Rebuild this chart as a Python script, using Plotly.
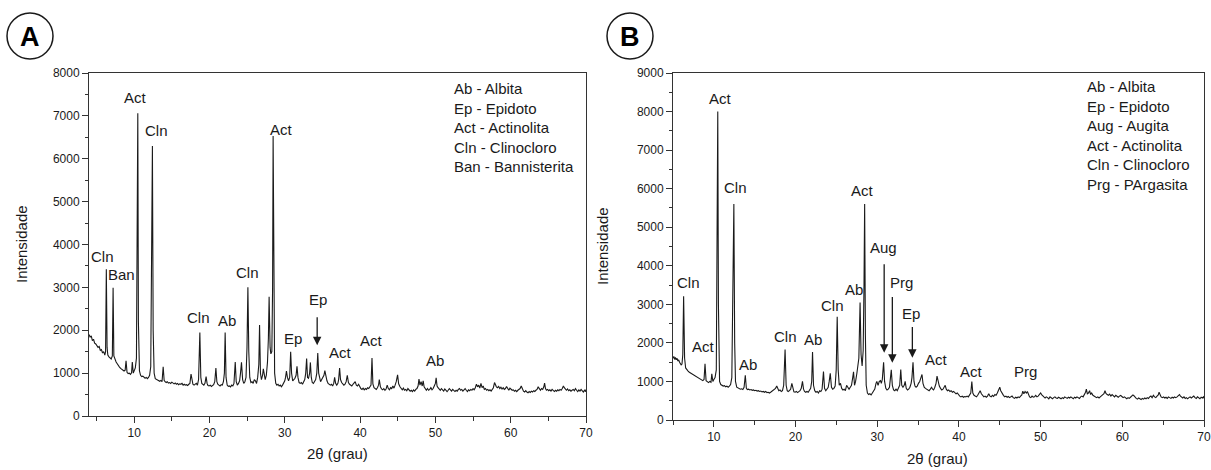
import plotly.graph_objects as go

# ---------------- XRD pattern A (2theta, counts) ----------------
pattern_a = [
    (4.0, 1900), (4.15, 1840), (4.3, 1870), (4.45, 1760), (4.6, 1790), (4.75, 1700), (4.9, 1680),
    (5.05, 1640), (5.2, 1600), (5.35, 1620), (5.5, 1530), (5.65, 1550), (5.8, 1470), (5.95, 1500),
    (6.1, 1420), (6.2, 1500), (6.3, 3420), (6.4, 1600), (6.5, 1420), (6.65, 1380), (6.8, 1340),
    (6.95, 1330), (7.1, 1400), (7.2, 2990), (7.3, 1400), (7.45, 1300), (7.6, 1260), (7.75, 1220),
    (7.9, 1170), (8.05, 1140), (8.2, 1110), (8.35, 1090), (8.5, 1080), (8.65, 1050), (8.8, 1070),
    (8.92, 1290), (9.05, 1020), (9.2, 990), (9.35, 1000), (9.5, 970), (9.65, 1010), (9.75, 1260),
    (9.88, 1000), (10.0, 1080), (10.15, 1120), (10.3, 1350), (10.42, 4400), (10.48, 7060),
    (10.56, 2200), (10.7, 1050), (10.85, 950), (11.0, 920), (11.15, 930), (11.3, 900), (11.45, 880),
    (11.6, 900), (11.75, 870), (11.9, 900), (12.05, 950), (12.2, 1150), (12.35, 5700), (12.42, 6300),
    (12.52, 2000), (12.65, 1000), (12.8, 870), (12.95, 850), (13.1, 840), (13.25, 830), (13.4, 810),
    (13.55, 830), (13.7, 800), (13.85, 1150), (13.98, 830), (14.1, 800), (14.25, 780), (14.4, 800),
    (14.55, 770), (14.7, 780), (14.85, 760), (15.0, 790), (15.15, 760), (15.3, 750), (15.45, 770),
    (15.6, 740), (15.75, 760), (15.9, 730), (16.05, 750), (16.2, 740), (16.35, 760), (16.5, 720),
    (16.65, 740), (16.8, 720), (16.95, 730), (17.1, 710), (17.25, 740), (17.4, 760), (17.55, 980),
    (17.68, 800), (17.8, 740), (17.95, 720), (18.1, 740), (18.25, 760), (18.4, 720), (18.55, 850),
    (18.72, 1950), (18.85, 900), (18.98, 760), (19.1, 740), (19.25, 720), (19.4, 760), (19.55, 920),
    (19.68, 760), (19.8, 710), (19.95, 700), (20.1, 720), (20.25, 690), (20.4, 710), (20.55, 730),
    (20.7, 800), (20.85, 1120), (20.98, 800), (21.1, 740), (21.25, 720), (21.4, 700), (21.55, 730),
    (21.7, 720), (21.85, 800), (21.98, 1000), (22.08, 1950), (22.2, 900), (22.35, 720), (22.5, 690),
    (22.65, 700), (22.8, 680), (22.95, 720), (23.1, 700), (23.25, 760), (23.42, 1260), (23.55, 800),
    (23.7, 720), (23.85, 760), (24.0, 820), (24.12, 1000), (24.25, 1250), (24.4, 850), (24.55, 760),
    (24.7, 800), (24.85, 900), (24.98, 1600), (25.1, 3000), (25.22, 1500), (25.35, 900), (25.5, 780),
    (25.65, 800), (25.8, 760), (25.95, 850), (26.1, 820), (26.25, 760), (26.4, 900), (26.55, 1200),
    (26.65, 2120), (26.77, 1000), (26.9, 850), (27.05, 950), (27.15, 1100), (27.28, 900), (27.4, 850),
    (27.55, 950), (27.7, 1250), (27.82, 1800), (27.92, 2780), (28.05, 1600), (28.15, 1450),
    (28.28, 1500), (28.38, 3000), (28.45, 6530), (28.55, 2500), (28.65, 1000), (28.8, 760),
    (28.95, 720), (29.1, 740), (29.25, 700), (29.4, 720), (29.55, 680), (29.7, 720), (29.85, 760),
    (30.0, 820), (30.1, 900), (30.22, 1050), (30.35, 900), (30.5, 820), (30.65, 900), (30.78, 1500),
    (30.9, 1000), (31.05, 820), (31.2, 850), (31.35, 880), (31.5, 950), (31.62, 1160), (31.75, 900),
    (31.9, 780), (32.05, 760), (32.2, 780), (32.35, 740), (32.5, 800), (32.65, 850), (32.78, 1000),
    (32.9, 1340), (33.02, 900), (33.15, 880), (33.3, 1000), (33.4, 1250), (33.52, 900), (33.65, 780),
    (33.8, 760), (33.95, 800), (34.1, 850), (34.25, 1000), (34.38, 1470), (34.5, 1000), (34.62, 850),
    (34.75, 800), (34.9, 850), (35.05, 900), (35.2, 950), (35.32, 1060), (35.45, 900), (35.6, 820),
    (35.75, 760), (35.9, 740), (36.05, 720), (36.2, 740), (36.35, 700), (36.5, 760), (36.62, 900),
    (36.75, 760), (36.9, 720), (37.05, 760), (37.15, 850), (37.28, 1120), (37.4, 850), (37.55, 780),
    (37.7, 740), (37.85, 720), (38.0, 740), (38.15, 800), (38.3, 950), (38.45, 780), (38.6, 740),
    (38.75, 720), (38.9, 700), (39.05, 740), (39.2, 760), (39.35, 800), (39.5, 720), (39.65, 700),
    (39.8, 740), (39.95, 680), (40.1, 640), (40.25, 620), (40.4, 650), (40.55, 610), (40.7, 640),
    (40.85, 620), (41.0, 660), (41.15, 640), (41.3, 680), (41.45, 720), (41.58, 1350), (41.7, 750),
    (41.85, 660), (42.0, 640), (42.15, 620), (42.3, 660), (42.45, 720), (42.55, 850), (42.7, 680),
    (42.85, 630), (43.0, 610), (43.15, 640), (43.3, 600), (43.45, 630), (43.6, 720), (43.75, 640),
    (43.9, 610), (44.05, 660), (44.2, 640), (44.35, 700), (44.5, 650), (44.65, 720), (44.8, 800),
    (44.98, 960), (45.12, 750), (45.3, 680), (45.45, 640), (45.6, 610), (45.75, 650), (45.9, 600),
    (46.05, 620), (46.2, 590), (46.35, 640), (46.5, 620), (46.65, 580), (46.8, 600), (46.95, 570),
    (47.1, 610), (47.25, 580), (47.4, 620), (47.55, 640), (47.7, 700), (47.82, 860), (47.95, 720),
    (48.1, 800), (48.25, 700), (48.38, 820), (48.5, 680), (48.65, 620), (48.8, 600), (48.95, 640),
    (49.1, 600), (49.25, 620), (49.4, 660), (49.55, 610), (49.7, 640), (49.85, 700), (50.0, 760),
    (50.1, 890), (50.22, 700), (50.35, 660), (50.5, 620), (50.65, 600), (50.8, 640), (50.95, 610),
    (51.1, 580), (51.25, 630), (51.4, 600), (51.55, 570), (51.7, 600), (51.85, 640), (52.0, 610),
    (52.15, 580), (52.3, 620), (52.45, 600), (52.6, 570), (52.75, 600), (52.9, 580), (53.05, 620),
    (53.2, 640), (53.35, 600), (53.5, 620), (53.65, 580), (53.8, 600), (53.95, 640), (54.1, 600),
    (54.25, 570), (54.4, 610), (54.55, 590), (54.7, 620), (54.85, 600), (55.0, 640), (55.15, 610),
    (55.3, 660), (55.45, 740), (55.6, 680), (55.75, 720), (55.9, 650), (56.05, 760), (56.2, 660),
    (56.35, 700), (56.5, 620), (56.65, 640), (56.8, 600), (56.95, 620), (57.1, 590), (57.25, 610),
    (57.4, 580), (57.55, 620), (57.7, 660), (57.85, 780), (57.98, 700), (58.1, 680), (58.25, 660),
    (58.4, 690), (58.55, 640), (58.7, 670), (58.85, 630), (59.0, 660), (59.15, 620), (59.3, 640),
    (59.45, 690), (59.6, 630), (59.75, 600), (59.9, 650), (60.05, 630), (60.2, 600), (60.35, 610),
    (60.5, 580), (60.65, 600), (60.8, 570), (60.95, 600), (61.1, 620), (61.25, 640), (61.4, 700),
    (61.55, 620), (61.7, 580), (61.85, 560), (62.0, 590), (62.15, 560), (62.3, 540), (62.45, 570),
    (62.6, 550), (62.75, 580), (62.9, 560), (63.05, 590), (63.2, 570), (63.35, 600), (63.5, 620),
    (63.65, 680), (63.8, 630), (63.95, 600), (64.1, 640), (64.25, 620), (64.4, 680), (64.5, 770),
    (64.62, 640), (64.75, 600), (64.9, 620), (65.05, 590), (65.2, 610), (65.35, 580), (65.5, 620),
    (65.65, 600), (65.8, 570), (65.95, 600), (66.1, 580), (66.25, 610), (66.4, 590), (66.55, 620),
    (66.7, 600), (66.85, 640), (67.0, 700), (67.12, 660), (67.25, 620), (67.4, 600), (67.55, 630),
    (67.7, 590), (67.85, 610), (68.0, 580), (68.15, 600), (68.3, 620), (68.45, 590), (68.6, 640),
    (68.75, 600), (68.9, 570), (69.05, 610), (69.2, 580), (69.35, 620), (69.5, 590), (69.65, 560),
    (69.8, 600), (69.95, 570), (70.0, 620),
]

# ---------------- XRD pattern B (2theta, counts) ----------------
pattern_b = [
    (5.0, 1600), (5.1, 1650), (5.2, 1570), (5.3, 1620), (5.4, 1560), (5.5, 1600), (5.6, 1530),
    (5.7, 1560), (5.8, 1500), (5.9, 1470), (6.0, 1430), (6.1, 1450), (6.2, 1700), (6.3, 3210),
    (6.42, 1600), (6.55, 1350), (6.7, 1300), (6.85, 1270), (7.0, 1240), (7.15, 1220), (7.3, 1190),
    (7.45, 1170), (7.6, 1150), (7.75, 1120), (7.9, 1100), (8.05, 1090), (8.2, 1060), (8.35, 1050),
    (8.5, 1030), (8.65, 1020), (8.8, 1050), (8.92, 1460), (9.05, 1020), (9.2, 980), (9.35, 970),
    (9.5, 1000), (9.65, 980), (9.75, 1200), (9.88, 1000), (10.0, 1050), (10.15, 1100), (10.3, 1300),
    (10.42, 6200), (10.48, 8000), (10.56, 3000), (10.7, 1000), (10.85, 920), (11.0, 900),
    (11.15, 880), (11.3, 890), (11.45, 860), (11.6, 880), (11.75, 850), (11.9, 880), (12.05, 920),
    (12.2, 1100), (12.35, 3600), (12.45, 5600), (12.55, 2000), (12.65, 1000), (12.8, 850),
    (12.95, 830), (13.1, 820), (13.25, 800), (13.4, 810), (13.55, 790), (13.7, 850), (13.85, 1160),
    (13.98, 820), (14.1, 790), (14.25, 800), (14.4, 780), (14.55, 790), (14.7, 770), (14.85, 780),
    (15.0, 760), (15.15, 770), (15.3, 750), (15.45, 760), (15.6, 740), (15.75, 750), (15.9, 730),
    (16.05, 740), (16.2, 720), (16.35, 740), (16.5, 710), (16.65, 720), (16.8, 700), (16.95, 720),
    (17.1, 740), (17.25, 760), (17.4, 800), (17.55, 820), (17.7, 880), (17.82, 800), (17.95, 760),
    (18.1, 780), (18.25, 740), (18.4, 760), (18.55, 900), (18.72, 1830), (18.85, 900), (18.98, 760),
    (19.1, 740), (19.25, 760), (19.4, 800), (19.55, 950), (19.68, 780), (19.8, 730), (19.95, 720),
    (20.1, 740), (20.25, 710), (20.4, 730), (20.55, 760), (20.7, 820), (20.85, 1000), (20.98, 800),
    (21.1, 740), (21.25, 720), (21.4, 740), (21.55, 720), (21.7, 760), (21.85, 820), (21.98, 1000),
    (22.08, 1760), (22.2, 900), (22.35, 760), (22.5, 720), (22.65, 740), (22.8, 700), (22.95, 760),
    (23.1, 740), (23.25, 800), (23.42, 1260), (23.55, 820), (23.7, 760), (23.85, 800), (24.0, 850),
    (24.12, 1000), (24.25, 1210), (24.4, 850), (24.55, 800), (24.7, 820), (24.85, 880), (24.98, 1300),
    (25.1, 2680), (25.22, 1300), (25.35, 900), (25.5, 950), (25.65, 820), (25.8, 780), (25.95, 800),
    (26.1, 760), (26.25, 900), (26.4, 850), (26.55, 800), (26.7, 850), (26.85, 900), (27.0, 1100),
    (27.1, 1250), (27.22, 900), (27.35, 1000), (27.5, 1200), (27.65, 1500), (27.75, 1600),
    (27.9, 3050), (28.02, 1700), (28.15, 1400), (28.28, 1800), (28.38, 3500), (28.46, 5600),
    (28.55, 2200), (28.65, 900), (28.8, 700), (28.95, 660), (29.1, 680), (29.25, 650), (29.4, 700),
    (29.55, 760), (29.7, 800), (29.85, 950), (29.95, 1000), (30.1, 900), (30.25, 1000), (30.4, 1020),
    (30.5, 950), (30.62, 1050), (30.78, 1500), (30.9, 1000), (31.05, 820), (31.2, 780), (31.35, 800),
    (31.5, 850), (31.62, 1100), (31.72, 1300), (31.85, 900), (32.0, 780), (32.15, 760), (32.3, 800),
    (32.45, 760), (32.6, 820), (32.75, 900), (32.88, 1310), (33.0, 900), (33.15, 850), (33.3, 900),
    (33.42, 1000), (33.55, 820), (33.7, 780), (33.85, 800), (34.0, 850), (34.15, 950), (34.25, 1100),
    (34.38, 1500), (34.5, 1000), (34.62, 880), (34.75, 850), (34.9, 880), (35.05, 950), (35.2, 1000),
    (35.35, 1100), (35.48, 1180), (35.6, 950), (35.75, 850), (35.9, 820), (36.05, 800), (36.2, 780),
    (36.35, 760), (36.5, 800), (36.65, 850), (36.78, 800), (36.9, 780), (37.05, 850), (37.2, 950),
    (37.32, 1140), (37.45, 1000), (37.6, 880), (37.75, 820), (37.9, 780), (38.05, 800), (38.2, 850),
    (38.32, 900), (38.45, 800), (38.6, 760), (38.75, 780), (38.9, 740), (39.05, 760), (39.2, 720),
    (39.35, 740), (39.5, 700), (39.65, 680), (39.8, 700), (39.95, 650), (40.1, 620), (40.25, 600),
    (40.4, 620), (40.55, 590), (40.7, 610), (40.85, 600), (41.0, 620), (41.15, 600), (41.3, 640),
    (41.45, 700), (41.58, 1000), (41.7, 700), (41.85, 640), (42.0, 610), (42.15, 600), (42.3, 640),
    (42.45, 700), (42.6, 760), (42.75, 680), (42.9, 630), (43.05, 600), (43.2, 620), (43.35, 590),
    (43.5, 620), (43.65, 680), (43.8, 620), (43.95, 600), (44.1, 640), (44.25, 610), (44.4, 660),
    (44.55, 640), (44.7, 700), (44.85, 760), (45.0, 850), (45.12, 760), (45.3, 680), (45.45, 640),
    (45.6, 600), (45.75, 620), (45.9, 590), (46.05, 610), (46.2, 580), (46.35, 600), (46.5, 620),
    (46.65, 580), (46.8, 560), (46.95, 590), (47.1, 570), (47.25, 600), (47.4, 580), (47.55, 620),
    (47.7, 650), (47.82, 750), (47.95, 680), (48.1, 740), (48.25, 700), (48.38, 740), (48.5, 650),
    (48.65, 600), (48.8, 580), (48.95, 620), (49.1, 590), (49.25, 600), (49.4, 640), (49.55, 600),
    (49.7, 620), (49.85, 660), (50.0, 700), (50.12, 660), (50.25, 620), (50.4, 600), (50.55, 570),
    (50.7, 600), (50.85, 580), (51.0, 550), (51.15, 600), (51.3, 570), (51.45, 550), (51.6, 580),
    (51.75, 600), (51.9, 570), (52.05, 560), (52.2, 590), (52.35, 570), (52.5, 550), (52.65, 580),
    (52.8, 560), (52.95, 600), (53.1, 580), (53.25, 560), (53.4, 590), (53.55, 570), (53.7, 600),
    (53.85, 580), (54.0, 550), (54.15, 590), (54.3, 570), (54.45, 600), (54.6, 580), (54.75, 560),
    (54.9, 600), (55.05, 620), (55.2, 600), (55.35, 650), (55.5, 720), (55.6, 800), (55.72, 680),
    (55.85, 700), (56.0, 760), (56.12, 660), (56.25, 700), (56.4, 640), (56.55, 620), (56.7, 600),
    (56.85, 580), (57.0, 600), (57.15, 570), (57.3, 600), (57.45, 620), (57.6, 640), (57.75, 680),
    (57.88, 760), (58.0, 690), (58.15, 660), (58.3, 640), (58.45, 670), (58.6, 620), (58.75, 660),
    (58.9, 630), (59.05, 600), (59.2, 640), (59.35, 610), (59.5, 590), (59.65, 620), (59.8, 640),
    (59.95, 610), (60.1, 580), (60.25, 600), (60.4, 570), (60.55, 550), (60.7, 580), (60.85, 560),
    (61.0, 590), (61.15, 610), (61.3, 650), (61.42, 630), (61.55, 590), (61.7, 560), (61.85, 540),
    (62.0, 570), (62.15, 550), (62.3, 530), (62.45, 560), (62.6, 540), (62.75, 570), (62.9, 550),
    (63.05, 580), (63.2, 560), (63.35, 600), (63.5, 620), (63.65, 580), (63.8, 640), (63.95, 600),
    (64.1, 580), (64.25, 620), (64.4, 650), (64.5, 720), (64.62, 630), (64.75, 600), (64.9, 580),
    (65.05, 600), (65.2, 570), (65.35, 590), (65.5, 560), (65.65, 600), (65.8, 580), (65.95, 560),
    (66.1, 590), (66.25, 570), (66.4, 600), (66.55, 580), (66.7, 600), (66.85, 620), (67.0, 660),
    (67.12, 620), (67.25, 590), (67.4, 570), (67.55, 600), (67.7, 560), (67.85, 580), (68.0, 550),
    (68.15, 580), (68.3, 600), (68.45, 570), (68.6, 590), (68.75, 620), (68.9, 580), (69.05, 560),
    (69.2, 600), (69.35, 570), (69.5, 550), (69.65, 590), (69.8, 570), (69.95, 600), (70.0, 560),
]

two_theta_a = [p[0] for p in pattern_a]
intensity_a = [p[1] for p in pattern_a]
two_theta_b = [p[0] for p in pattern_b]
intensity_b = [p[1] for p in pattern_b]

# Phase labels over the peaks: (text, 2theta, height)
labels_a = [
    ("Cln", 5.85, 3730), ("Ban", 8.25, 3300), ("Act", 10.2, 7420), ("Cln", 12.9, 6670),
    ("Act", 29.5, 6690), ("Cln", 18.6, 2290), ("Ab", 22.3, 2230), ("Cln", 25.1, 3340),
    ("Ep", 31.1, 1800), ("Ep", 34.35, 2720), ("Act", 37.4, 1490), ("Act", 41.5, 1770),
    ("Ab", 50.0, 1290),
]
labels_b = [
    ("Cln", 6.95, 3575), ("Act", 8.7, 1915), ("Act", 10.8, 8330), ("Cln", 12.65, 6030),
    ("Act", 28.2, 5960), ("Aug", 30.8, 4466), ("Prg", 33.0, 3560), ("Ab", 27.1, 3386),
    ("Cln", 24.55, 2970), ("Cln", 18.8, 2160), ("Ab", 22.1, 2090), ("Ab", 14.2, 1443),
    ("Ep", 34.1, 2756), ("Act", 37.3, 1572), ("Act", 41.5, 1270), ("Prg", 48.2, 1270),
]
# Arrows pointing at minor reflections: (2theta, tail height, head height)
arrows_a = [(34.3, 2340, 1650)]
arrows_b = [(30.85, 4078, 1746), (31.85, 3230, 1487), (34.3, 2453, 1616)]

legend_a = ["Ab - Albita", "Ep - Epidoto", "Act - Actinolita", "Cln - Clinocloro",
            "Ban - Bannisterita"]
legend_b = ["Ab - Albita", "Ep - Epidoto", "Aug - Augita", "Act - Actinolita",
            "Cln - Clinocloro", "Prg - PArgasita"]

W, H = 1211, 470
FONT = "Liberation Sans, Arial, sans-serif"
INK = "#1a1a1a"


def px(x):
    return x / W


def py(y):
    return 1 - y / H


fig = go.Figure()
fig.add_trace(go.Scatter(x=two_theta_a, y=intensity_a, mode="lines", xaxis="x", yaxis="y",
                         line=dict(color=INK, width=1.1), showlegend=False, hoverinfo="skip"))
fig.add_trace(go.Scatter(x=two_theta_b, y=intensity_b, mode="lines", xaxis="x2", yaxis="y2",
                         line=dict(color=INK, width=1.1), showlegend=False, hoverinfo="skip"))

axis_common = dict(
    showline=True, linecolor="#333333", linewidth=1, mirror=True,
    ticks="outside", ticklen=6, tickwidth=1, tickcolor="#333333",
    showgrid=False, zeroline=False, automargin=False,
    tickfont=dict(family=FONT, size=12, color=INK),
)

fig.update_layout(
    width=W, height=H,
    margin=dict(l=0, r=0, t=0, b=0, autoexpand=False),
    paper_bgcolor="white", plot_bgcolor="white",
    xaxis=dict(domain=[px(89), px(586)], range=[4, 70], tickvals=[10, 20, 30, 40, 50, 60, 70],
               minor=dict(tickvals=[5, 15, 25, 35, 45, 55, 65], ticks="outside", ticklen=4,
                          tickcolor="#333333"),
               anchor="y", **axis_common),
    yaxis=dict(domain=[py(416), py(73)], range=[0, 8000], dtick=1000,
               minor=dict(dtick=500, ticks="outside", ticklen=3, tickcolor="#333333"),
               anchor="x", **axis_common),
    xaxis2=dict(domain=[px(673), px(1204)], range=[5, 70], tickvals=[10, 20, 30, 40, 50, 60, 70],
                minor=dict(tickvals=[5, 15, 25, 35, 45, 55, 65], ticks="outside", ticklen=4,
                           tickcolor="#333333"),
                anchor="y2", **axis_common),
    yaxis2=dict(domain=[py(420), py(73)], range=[0, 9000], dtick=1000,
                minor=dict(dtick=500, ticks="outside", ticklen=3, tickcolor="#333333"),
                anchor="x2", **axis_common),
)

ann = []
for text, x, y in labels_a:
    ann.append(dict(text=text, x=x, y=y, xref="x", yref="y", showarrow=False,
                    xanchor="center", yanchor="middle",
                    font=dict(family=FONT, size=15, color=INK)))
for text, x, y in labels_b:
    ann.append(dict(text=text, x=x, y=y, xref="x2", yref="y2", showarrow=False,
                    xanchor="center", yanchor="middle",
                    font=dict(family=FONT, size=15, color=INK)))
for x, y0, y1 in arrows_a:
    ann.append(dict(text="", x=x, y=y1, ax=x, ay=y0, xref="x", yref="y", axref="x", ayref="y",
                    showarrow=True, arrowhead=2, arrowsize=1.3, arrowwidth=1.3, arrowcolor=INK))
for x, y0, y1 in arrows_b:
    ann.append(dict(text="", x=x, y=y1, ax=x, ay=y0, xref="x2", yref="y2", axref="x2", ayref="y2",
                    showarrow=True, arrowhead=2, arrowsize=1.3, arrowwidth=1.3, arrowcolor=INK))

# Phase key in the upper right of each panel
ann.append(dict(text="<br>".join(legend_a), x=px(452), y=py(78), xref="paper", yref="paper",
                xanchor="left", yanchor="top", align="left", showarrow=False,
                font=dict(family=FONT, size=15, color=INK)))
ann.append(dict(text="<br>".join(legend_b), x=px(1085), y=py(76), xref="paper", yref="paper",
                xanchor="left", yanchor="top", align="left", showarrow=False,
                font=dict(family=FONT, size=15, color=INK)))

# Axis titles
for xpix, ypix in [(21, 244), (602, 246)]:
    ann.append(dict(text="Intensidade", x=px(xpix), y=py(ypix), xref="paper", yref="paper",
                    xanchor="center", yanchor="middle", textangle=-90, showarrow=False,
                    font=dict(family=FONT, size=15, color=INK)))
for xpix, ypix in [(337, 453), (938, 458)]:
    ann.append(dict(text="2θ (grau)", x=px(xpix), y=py(ypix), xref="paper", yref="paper",
                    xanchor="center", yanchor="middle", showarrow=False,
                    font=dict(family=FONT, size=15, color=INK)))

# Panel letters in circles
shapes = []
for letter, cx, cy in [("A", 30, 36), ("B", 630, 36)]:
    r = 23
    shapes.append(dict(type="circle", xref="paper", yref="paper",
                       x0=px(cx - r), x1=px(cx + r), y0=py(cy + r), y1=py(cy - r),
                       line=dict(color=INK, width=1.5)))
    ann.append(dict(text=f"<b>{letter}</b>", x=px(cx), y=py(cy + 1), xref="paper", yref="paper",
                    xanchor="center", yanchor="middle", showarrow=False,
                    font=dict(family=FONT, size=27, color="black")))

fig.update_layout(annotations=ann, shapes=shapes)
fig.write_html("out.html")
